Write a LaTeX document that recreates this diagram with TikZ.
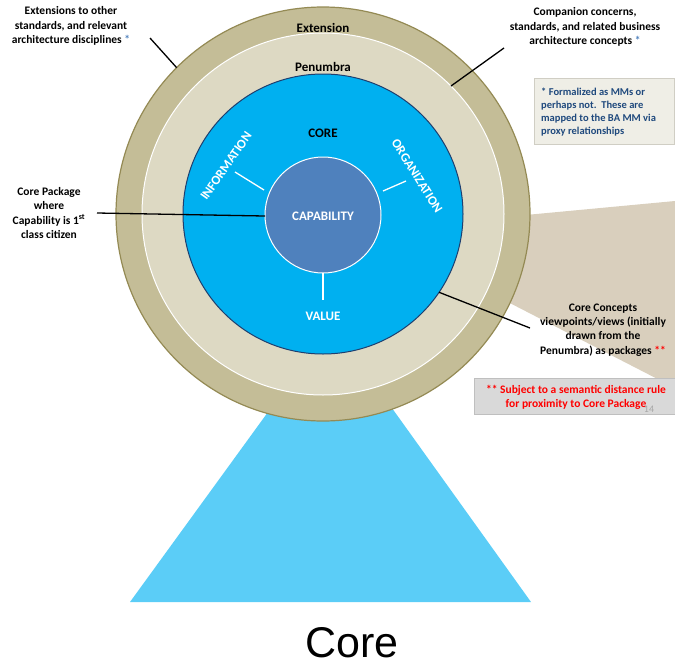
\documentclass[tikz,border=0pt]{standalone}
\usepackage{fontspec}
\setmainfont{Carlito}
\newfontfamily\arialfont{Liberation Sans}
\definecolor{extfill}{HTML}{C4BD97}
\definecolor{extborder}{HTML}{948A54}
\definecolor{penfill}{HTML}{DDD9C3}
\definecolor{corefill}{HTML}{00B0F0}
\definecolor{coreborder}{HTML}{1F3F6F}
\definecolor{capfill}{HTML}{4F81BD}
\definecolor{trapfill}{HTML}{5BCDF7}
\definecolor{wedgefill}{HTML}{D9CFBD}
\definecolor{notefill}{HTML}{EFEEE6}
\definecolor{noteborder}{HTML}{D0CEC4}
\definecolor{notetext}{HTML}{1F497D}
\definecolor{grayfill}{HTML}{D9D9D9}
\definecolor{grayborder}{HTML}{BFBFBF}
\definecolor{starblue}{HTML}{4F81BD}
\begin{document}
\begin{tikzpicture}[x=1pt,y=-1pt,
  ring/.style={circle,inner sep=0pt,outer sep=0pt},
  lbl/.style={font=\bfseries\fontsize{11.5}{14.2}\selectfont,align=center,inner sep=0pt},
  ringlbl/.style={font=\bfseries\fontsize{13}{15}\selectfont,inner sep=0pt},
  whitelbl/.style={font=\bfseries\fontsize{13}{15}\selectfont,text=white,inner sep=0pt},
  leader/.style={draw=black,line width=1.3pt},
  tick/.style={draw=white,line width=1.3pt}]
\useasboundingbox (0,0) rectangle (675,667);
% background shapes
\fill[wedgefill] (515,216) -- (675,201) -- (675,388) -- (500,298) -- cycle;
\fill[trapfill] (284,390) -- (379,390) -- (531,602) -- (130,602) -- cycle;
% rings
\node[ring,minimum size=414pt,fill=extfill,draw=extborder,line width=1.2pt] (ext) at (323,214) {};
\node[ring,minimum size=362pt,fill=penfill,draw=white,line width=1pt] (pen) at (323,214) {};
\node[ring,minimum size=280pt,fill=corefill,draw=coreborder,line width=1pt] (core) at (323,214) {};
\node[ring,minimum size=116pt,fill=capfill,draw=white,line width=1pt] (cap) at (323,215) {};
% ring labels
\node[ringlbl] (extlbl) at (323,28) {Extension};
\node[ringlbl] (penlbl) at (323,67) {Penumbra};
\node[ringlbl] (corelbl) at (323,133) {CORE};
\node[whitelbl] (caplbl) at (323,216) {CAPABILITY};
\node[whitelbl,rotate=55] (infolbl) at (226,166) {INFORMATION};
\node[whitelbl,rotate=-58] (orglbl) at (417,176) {ORGANIZATION};
\node[whitelbl] (vallbl) at (323,316) {VALUE};
% ticks
\coordinate (ti1) at (235,172); \coordinate (ti2) at (264,190);
\coordinate (to1) at (406,181); \coordinate (to2) at (383,191);
\coordinate (tv1) at (323,273); \coordinate (tv2) at (323,300);
\draw[tick] (ti1) -- (ti2);
\draw[tick] (to1) -- (to2);
\draw[tick] (tv1) -- (tv2);
% outer labels
\node[lbl] (extnote) at (71,26) {Extensions to other\\standards, and relevant\\architecture disciplines \textcolor{starblue}{*}};
\node[lbl] (compnote) at (585,27) {Companion concerns,\\standards, and related business\\architecture concepts \textcolor{starblue}{*}};
\node[lbl] (pkgnote) at (49,213) {Core Package\\where\\Capability is 1\textsuperscript{st}\\class citizen};
\node[lbl] (ccnote) at (603,330) {Core Concepts\\viewpoints/views (initially\\drawn from the\\Penumbra) as packages \textcolor{red}{**}};
% leaders
\coordinate (l1) at (150,38);
\coordinate (l2) at (504,48);
\coordinate (l3) at (97,213);
\coordinate (l4) at (530,328);
\draw[leader] (l1) -- (ext.135);
\draw[leader] (l2) -- (pen.45);
\draw[leader] (l3) -- (cap.181);
\draw[leader] (l4) -- (core.-34);
% note boxes
\node[fill=notefill,draw=noteborder,line width=0.6pt,minimum width=140pt,minimum height=66pt,inner sep=0pt] (notebox) at (604,111) {};
\node[font=\bfseries\fontsize{10.5}{12.8}\selectfont,text=notetext,align=left,anchor=west,inner sep=0pt] (notetxt) at (541,112) {* Formalized as MMs or\\perhaps not.\ \ These are\\mapped to the BA MM via\\proxy relationships};
\node[fill=grayfill,draw=grayborder,line width=0.6pt,minimum width=201pt,minimum height=36pt,inner sep=0pt] (redbox) at (574.5,396) {};
\node[font=\bfseries\fontsize{11.5}{14}\selectfont,text=red,align=center,inner sep=0pt] (redtxt) at (576,397) {** Subject to a semantic distance rule\\for proximity to Core Package};
\node[font=\fontsize{10}{11}\selectfont,text=black!35,inner sep=0pt] (pagenum) at (649,409) {14};
% title
\node[font=\arialfont\fontsize{43}{48}\selectfont,inner sep=0pt] (title) at (352,643) {Core};
\end{tikzpicture}
\end{document}
